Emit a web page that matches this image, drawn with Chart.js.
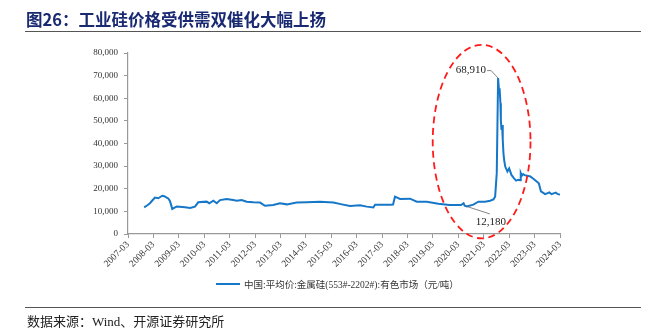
<!DOCTYPE html>
<html>
<head>
<meta charset="utf-8">
<script src="https://cdn.jsdelivr.net/npm/chart.js@4/dist/chart.umd.min.js"></script>
<style>
  html, body { margin: 0; padding: 0; background: #fff; }
  #wrap { position: relative; width: 648px; height: 336px; overflow: hidden; }
  #chart { position: absolute; left: 0; top: 0; }
  .title { position: absolute; left: 26px; top: 7px; font: bold 16.5px "Noto Sans CJK SC", sans-serif; color: #1a2a72; white-space: nowrap; }
  .rule { position: absolute; left: 25px; width: 616px; height: 0; border-top: 1.5px solid #555; }
  .source { position: absolute; left: 27px; top: 311px; font: 13px "Liberation Serif", "Noto Sans CJK SC", serif; color: #222; white-space: nowrap; }
  .legend { position: absolute; left: 216px; top: 277px; font: 9.5px "Liberation Serif", "Noto Sans CJK SC", serif; color: #333; white-space: nowrap; display: flex; align-items: center; }
  .legend i { display: inline-block; width: 24px; height: 0; border-top: 2px solid #1677c8; margin-right: 4px; }
</style>
</head>
<body>
<div id="wrap">
  <canvas id="chart" width="648" height="336"></canvas>
  <div class="title">图26：工业硅价格受供需双催化大幅上扬</div>
  <div class="rule" style="top:31px"></div>
  <div class="legend"><i></i><span id="seriesName"></span></div>
  <div class="rule" style="top:307px"></div>
  <div class="source">数据来源：Wind、开源证券研究所</div>
</div>
<script>
// Metallic silicon (553#-2202#) average price, yuan per tonne
const seriesName = '中国:平均价:金属硅(553#-2202#):有色市场（元/吨）';

const dates = [
  '2007-10-20','2007-12-01','2008-01-12','2008-02-15','2008-03-23','2008-05-10','2008-07-06','2008-08-05',
  '2008-09-09','2008-10-01','2008-10-25','2008-11-28','2009-01-01','2009-02-01','2009-05-28','2009-08-10',
  '2009-10-20','2009-12-06','2010-04-05','2010-05-12','2010-07-10','2010-08-28','2010-10-15','2011-01-18',
  '2011-04-21','2011-06-12','2011-08-21','2011-11-03','2012-02-06','2012-05-12','2012-07-21','2012-11-18',
  '2013-02-24','2013-06-01','2013-10-21','2014-03-12','2014-09-21','2015-04-01','2015-08-01','2015-11-27',
  '2016-04-18','2016-07-24','2016-10-27','2016-11-21','2017-06-24','2017-08-06','2017-09-03','2017-11-15',
  '2018-04-06','2018-07-12','2018-12-03','2019-05-18','2019-10-24','2020-04-09','2020-05-15','2020-06-01',
  '2020-07-01','2020-10-03','2020-12-15','2021-03-18','2021-06-01','2021-07-18','2021-08-12','2021-09-05',
  '2021-09-24','2021-10-08','2021-10-15','2021-10-27','2021-11-03','2021-11-12','2021-11-21','2021-11-30',
  '2021-12-10','2021-12-20','2022-01-05','2022-02-06','2022-03-01','2022-04-03','2022-05-10','2022-06-10',
  '2022-07-10','2022-08-05','2022-08-15','2022-09-01','2022-09-20','2022-10-10','2023-01-01','2023-03-01',
  '2023-05-01','2023-06-01','2023-08-01','2023-10-01','2023-11-01','2024-01-01','2024-02-01','2024-03-01'
];

const prices = [
  11800, 12600, 13600, 14800, 16100, 15800, 16900, 16700,
  16100, 15700, 14600, 11100, 11700, 12100, 11800, 11500,
  12100, 14000, 14300, 13600, 14700, 13600, 15000, 15500,
  15000, 14700, 15000, 14300, 14000, 13900, 12500, 12800,
  13600, 13100, 13900, 14000, 14200, 13900, 13100, 12400,
  12700, 12100, 11700, 12900, 12900, 13000, 16500, 15500,
  15600, 14300, 14300, 13400, 12800, 12800, 13600, 12500,
  12180, 13000, 14300, 14300, 14700, 15300, 16500, 26900,
  68910, 63000, 64400, 57800, 50400, 46000, 48200, 41600,
  35700, 32700, 29800, 27600, 29000, 26100, 24600, 23600,
  24000, 23800, 27000, 25800, 26500, 26000, 25400, 24000,
  22400, 18800, 17600, 18400, 17600, 18300, 17600, 17400
];

const tickLabels = [
  '2007-03','2008-03','2009-03','2010-03','2011-03','2012-03','2013-03','2014-03','2015-03',
  '2016-03','2017-03','2018-03','2019-03','2020-03','2021-03','2022-03','2023-03','2024-03'
];

// Points that carry a value label: the spike high and the pre-rally low
const labelledDates = ['2021-09-24', '2020-07-01'];

// Dashed ring around the 2020-2022 episode (date span, value span)
const highlightDates = ['2019-02-28', '2023-01-03'];
const highlightValues = [-1950, 83630];

// months elapsed since 2007-03
function monthIndex(s) {
  const [y, m, d] = s.split('-').map(Number);
  return (y - 2007) * 12 + (m - 3) + ((d || 1) - 1) / 30;
}

const points = dates.map((d, i) => ({ x: monthIndex(d), y: prices[i] }));
const fmt = v => v.toLocaleString('en-US');

document.getElementById('seriesName').textContent = seriesName;

const annotations = {
  id: 'annotations',
  afterDraw(chart) {
    const { ctx, scales: { x, y } } = chart;
    ctx.save();

    // dashed highlight ellipse
    const x0 = x.getPixelForValue(monthIndex(highlightDates[0]));
    const x1 = x.getPixelForValue(monthIndex(highlightDates[1]));
    const y0 = y.getPixelForValue(highlightValues[1]);
    const y1 = y.getPixelForValue(highlightValues[0]);
    ctx.beginPath();
    ctx.ellipse((x0 + x1) / 2, (y0 + y1) / 2, (x1 - x0) / 2, (y1 - y0) / 2, 0, 0, Math.PI * 2);
    ctx.strokeStyle = '#ff1a1a';
    ctx.lineWidth = 1.8;
    ctx.setLineDash([7, 4.5]);
    ctx.stroke();
    ctx.setLineDash([]);

    ctx.font = '11px "Liberation Serif", serif';
    ctx.fillStyle = '#222';
    ctx.strokeStyle = '#666';
    ctx.lineWidth = 0.8;

    // high
    const hi = dates.indexOf(labelledDates[0]);
    const hx = x.getPixelForValue(points[hi].x);
    const hy = y.getPixelForValue(prices[hi]);
    ctx.beginPath();
    ctx.moveTo(hx, hy);
    ctx.lineTo(hx - 7, hy - 7.5);
    ctx.lineTo(hx - 11, hy - 7.5);
    ctx.stroke();
    ctx.textAlign = 'right';
    ctx.textBaseline = 'middle';
    ctx.fillText(fmt(prices[hi]), hx - 12, hy - 7.5);

    // low
    const lo = dates.indexOf(labelledDates[1]);
    const lx = x.getPixelForValue(points[lo].x);
    const ly = y.getPixelForValue(prices[lo]);
    ctx.beginPath();
    ctx.moveTo(lx, ly);
    ctx.lineTo(lx + 23, ly + 7.5);
    ctx.stroke();
    ctx.textAlign = 'center';
    ctx.fillText(fmt(prices[lo]), lx + 24, ly + 16);

    ctx.restore();
  }
};

new Chart(document.getElementById('chart'), {
  type: 'line',
  data: {
    datasets: [{
      label: seriesName,
      data: points,
      borderColor: '#1677c8',
      borderWidth: 2,
      pointRadius: 0,
      tension: 0,
      fill: false
    }]
  },
  options: {
    responsive: false,
    animation: false,
    devicePixelRatio: 1,
    layout: { padding: { top: 53, right: 88, bottom: 52, left: 0 } },
    plugins: { legend: { display: false }, tooltip: { enabled: false } },
    scales: {
      x: {
        type: 'linear',
        min: 0,
        max: (tickLabels.length - 1) * 12,
        afterFit(s) { s.height = 50; },
        grid: { drawOnChartArea: false, drawTicks: true, tickLength: 4, color: '#999' },
        border: { display: true, color: '#999', width: 1.2 },
        ticks: {
          stepSize: 12,
          autoSkip: false,
          maxRotation: 45,
          minRotation: 45,
          padding: 1,
          color: '#333',
          font: { family: '"Liberation Serif", serif', size: 9.5 },
          callback: v => tickLabels[Math.round(v / 12)]
        }
      },
      y: {
        min: 0,
        max: 80000,
        afterFit(s) { s.width = 128; },
        grid: { drawOnChartArea: false, drawTicks: true, tickLength: 4, color: '#999' },
        border: { display: true, color: '#999', width: 1.2 },
        ticks: {
          stepSize: 10000,
          padding: 6,
          color: '#333',
          font: { family: '"Liberation Serif", serif', size: 9 },
          callback: v => fmt(v)
        }
      }
    }
  },
  plugins: [annotations]
});
</script>
</body>
</html>
